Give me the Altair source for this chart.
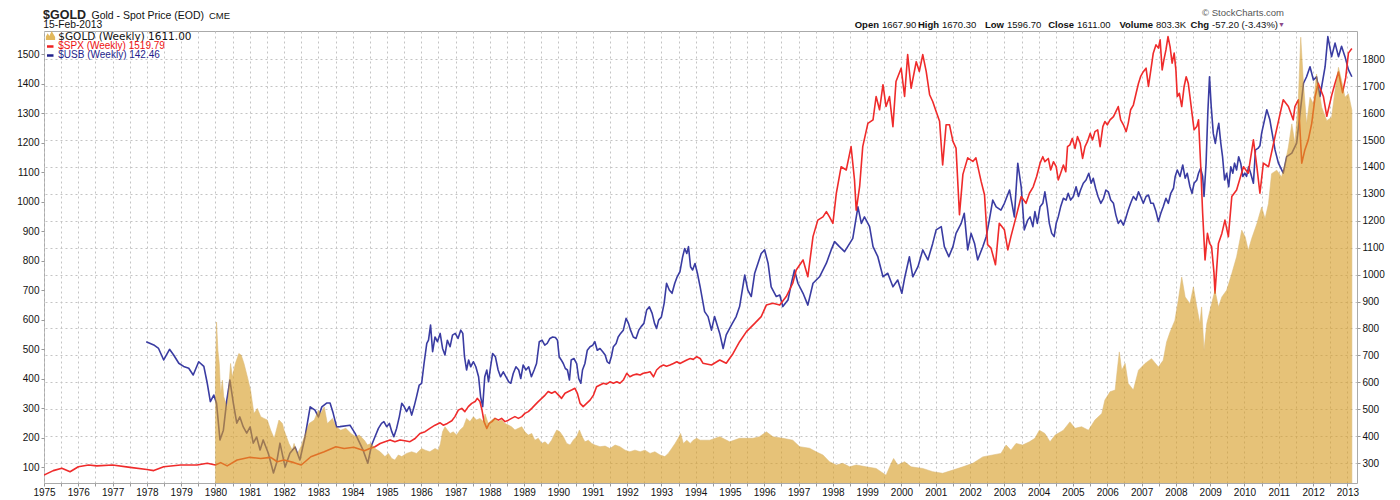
import altair as alt
import pandas as pd

# ---------------- data, (year, value) ----------------
# $SPX weekly, left axis
spx_points = [
    (1975.00, 74), (1975.27, 89), (1975.52, 97), (1975.76, 85), (1976.00, 102), (1976.30, 108),
    (1976.54, 105), (1977.00, 108), (1977.51, 100), (1978.00, 93), (1978.20, 89), (1978.49, 102),
    (1978.98, 108), (1979.46, 108), (1979.76, 114), (1980.00, 108), (1980.15, 116), (1980.34, 105),
    (1980.63, 125), (1981.00, 134), (1981.32, 130), (1981.61, 134), (1981.80, 119), (1982.00, 125),
    (1982.29, 116), (1982.50, 108), (1982.78, 136), (1983.17, 153), (1983.51, 170), (1983.75, 164),
    (1984.03, 168), (1984.34, 156),
    (1984.50, 164), (1984.65, 170), (1984.80, 181), (1984.94, 187), (1985.09, 193), (1985.23, 187),
    (1985.38, 193), (1985.52, 190), (1985.67, 187), (1985.82, 198), (1985.96, 215), (1986.11, 221),
    (1986.25, 232), (1986.40, 243), (1986.55, 251), (1986.64, 243), (1986.76, 249), (1986.89, 258),
    (1986.98, 272), (1987.08, 294), (1987.18, 300), (1987.27, 289), (1987.37, 306), (1987.47, 317),
    (1987.57, 323), (1987.63, 334), (1987.71, 323), (1987.77, 294), (1987.83, 255), (1987.91, 232),
    (1987.98, 249), (1988.06, 255), (1988.15, 266), (1988.25, 260), (1988.34, 266), (1988.44, 255),
    (1988.54, 260), (1988.63, 266), (1988.73, 272), (1988.83, 266), (1988.93, 272), (1989.02, 283),
    (1989.12, 289), (1989.22, 300), (1989.31, 311), (1989.41, 323), (1989.51, 334), (1989.61, 345),
    (1989.70, 357), (1989.80, 351), (1989.90, 357), (1990.00, 345), (1990.09, 334), (1990.19, 351),
    (1990.29, 357), (1990.38, 362), (1990.48, 368), (1990.55, 351), (1990.63, 317), (1990.72, 306),
    (1990.82, 317), (1990.92, 328), (1991.02, 345), (1991.11, 373), (1991.21, 379), (1991.31, 385),
    (1991.40, 382), (1991.50, 390), (1991.60, 385), (1991.70, 390), (1991.79, 385), (1991.89, 396),
    (1991.99, 419), (1992.08, 407), (1992.18, 413), (1992.28, 416), (1992.38, 413), (1992.47, 419),
    (1992.57, 421), (1992.67, 424), (1992.77, 407), (1992.86, 430), (1992.96, 441), (1993.06, 447),
    (1993.15, 443), (1993.25, 447), (1993.35, 452), (1993.45, 458), (1993.54, 452), (1993.64, 458),
    (1993.74, 464), (1993.84, 469), (1993.93, 466), (1994.03, 475), (1994.13, 469),
    (1994.21, 453), (1994.46, 447), (1994.70, 464), (1994.89, 453), (1995.09, 486), (1995.28, 526),
    (1995.48, 560), (1995.72, 588), (1995.91, 611), (1996.06, 650), (1996.25, 656), (1996.45, 650),
    (1996.64, 679), (1996.83, 724), (1996.93, 769), (1997.13, 803), (1997.27, 746), (1997.42, 882),
    (1997.56, 938), (1997.71, 949), (1997.81, 967), (1997.90, 949), (1998.00, 927), (1998.10, 1029),
    (1998.24, 1119), (1998.39, 1108), (1998.53, 1187), (1998.63, 1074), (1998.68, 972), (1998.78, 1052),
    (1998.87, 1187), (1999.02, 1266), (1999.17, 1278), (1999.26, 1357), (1999.36, 1312), (1999.46, 1397),
    (1999.55, 1323), (1999.65, 1357), (1999.75, 1255), (1999.84, 1408), (1999.99, 1453), (2000.09, 1357),
    (2000.18, 1499), (2000.28, 1385), (2000.43, 1475), (2000.52, 1442), (2000.62, 1499), (2000.72, 1442),
    (2000.82, 1363), (2000.91, 1340), (2001.01, 1306), (2001.11, 1273), (2001.20, 1125), (2001.30, 1261),
    (2001.40, 1261), (2001.50, 1205), (2001.59, 1182), (2001.69, 956), (2001.79, 1093), (2001.93, 1149),
    (2002.08, 1137), (2002.17, 1149), (2002.32, 1070), (2002.42, 1024), (2002.51, 855), (2002.61, 843),
    (2002.74, 787), (2002.85, 927), (2003.00, 905), (2003.10, 837), (2003.19, 882), (2003.34, 949),
    (2003.49, 1018), (2003.63, 995), (2003.73, 1029),
    (2003.84, 1051), (2003.94, 1086), (2004.04, 1131), (2004.12, 1153), (2004.18, 1136), (2004.28, 1147),
    (2004.35, 1108), (2004.43, 1136), (2004.51, 1119), (2004.57, 1074), (2004.64, 1097), (2004.72, 1125),
    (2004.79, 1102), (2004.84, 1187), (2004.91, 1193), (2004.98, 1215), (2005.06, 1181), (2005.13, 1221),
    (2005.21, 1198), (2005.28, 1147), (2005.35, 1187), (2005.42, 1204), (2005.50, 1232), (2005.57, 1210),
    (2005.64, 1238), (2005.72, 1244), (2005.79, 1187), (2005.87, 1255), (2005.93, 1272), (2006.00, 1261),
    (2006.08, 1278), (2006.18, 1289), (2006.25, 1306), (2006.32, 1323), (2006.39, 1278), (2006.47, 1261),
    (2006.55, 1238), (2006.61, 1266), (2006.68, 1312), (2006.76, 1328), (2006.84, 1368), (2006.91, 1402),
    (2006.97, 1424), (2007.05, 1441), (2007.13, 1453), (2007.20, 1391), (2007.27, 1447), (2007.34, 1504),
    (2007.42, 1532), (2007.49, 1521), (2007.54, 1549), (2007.60, 1447), (2007.65, 1481), (2007.71, 1515),
    (2007.77, 1560), (2007.83, 1526), (2007.89, 1470), (2007.95, 1504), (2008.00, 1447), (2008.04, 1357),
    (2008.10, 1368), (2008.17, 1323), (2008.24, 1391), (2008.30, 1424), (2008.36, 1402), (2008.41, 1357),
    (2008.47, 1300), (2008.53, 1244), (2008.61, 1255), (2008.66, 1278), (2008.72, 1131), (2008.78, 961),
    (2008.85, 803), (2008.92, 893), (2008.98, 860), (2009.04, 848), (2009.11, 760),
    (2009.14, 690), (2009.24, 859), (2009.34, 893), (2009.43, 938), (2009.53, 882), (2009.63, 1018),
    (2009.77, 1040), (2009.97, 1119), (2010.11, 1097), (2010.26, 1210), (2010.36, 1119), (2010.45, 1029),
    (2010.55, 1131), (2010.70, 1119), (2010.89, 1221), (2011.04, 1300), (2011.13, 1346), (2011.28, 1323),
    (2011.42, 1278), (2011.47, 1323), (2011.57, 1346), (2011.67, 1131), (2011.76, 1176), (2011.86, 1210),
    (2011.96, 1266), (2012.06, 1357), (2012.15, 1402), (2012.30, 1357), (2012.40, 1290), (2012.54, 1360),
    (2012.64, 1402), (2012.74, 1440), (2012.86, 1370), (2012.95, 1420), (2013.03, 1504), (2013.13, 1520),
]

# $USB weekly, drawn against the left axis
usb_points = [
    (1977.98, 526), (1978.20, 515), (1978.34, 503), (1978.49, 464), (1978.66, 500), (1978.78, 481),
    (1978.93, 453), (1979.07, 442), (1979.22, 436), (1979.35, 413), (1979.51, 458), (1979.66, 442),
    (1979.76, 385), (1979.85, 323), (1979.95, 345), (1980.03, 318), (1980.13, 193), (1980.23, 226),
    (1980.33, 328), (1980.42, 396), (1980.52, 318), (1980.62, 250), (1980.71, 271), (1980.81, 237),
    (1980.91, 216), (1981.01, 237), (1981.10, 182), (1981.20, 203), (1981.30, 159), (1981.39, 193),
    (1981.54, 148), (1981.69, 81), (1981.78, 115), (1981.88, 182), (1982.03, 101), (1982.17, 148),
    (1982.32, 169), (1982.46, 125), (1982.61, 203), (1982.76, 305), (1982.90, 294), (1983.00, 271),
    (1983.10, 305), (1983.24, 318), (1983.34, 318), (1983.43, 284), (1983.53, 237), (1983.63, 238),
    (1983.92, 243), (1984.07, 215), (1984.21, 181), (1984.30, 159), (1984.44, 114),
    (1984.55, 175), (1984.65, 204), (1984.75, 232), (1984.84, 249), (1984.91, 255), (1984.99, 238),
    (1985.07, 249), (1985.14, 221), (1985.20, 204), (1985.28, 232), (1985.36, 272), (1985.43, 317),
    (1985.50, 306), (1985.57, 289), (1985.65, 306), (1985.72, 277), (1985.79, 306), (1985.86, 339),
    (1985.94, 379), (1986.01, 385), (1986.08, 452), (1986.16, 520), (1986.21, 531), (1986.27, 582),
    (1986.33, 492), (1986.40, 542), (1986.47, 526), (1986.55, 554), (1986.62, 503), (1986.69, 481),
    (1986.76, 531), (1986.84, 509), (1986.91, 548), (1986.99, 554), (1987.07, 537), (1987.15, 565),
    (1987.21, 554), (1987.26, 475), (1987.32, 430), (1987.38, 464), (1987.44, 441), (1987.52, 458),
    (1987.59, 441), (1987.67, 407), (1987.73, 339), (1987.79, 306), (1987.85, 407), (1987.91, 430),
    (1987.96, 390), (1988.02, 441), (1988.08, 486), (1988.16, 475), (1988.24, 430), (1988.31, 407),
    (1988.39, 424), (1988.47, 407), (1988.55, 390), (1988.61, 385), (1988.68, 418), (1988.76, 441),
    (1988.84, 430), (1988.90, 401), (1988.97, 447), (1989.05, 430), (1989.13, 441), (1989.21, 407),
    (1989.29, 430), (1989.36, 452), (1989.44, 526), (1989.52, 531), (1989.60, 514), (1989.67, 520),
    (1989.75, 537), (1989.83, 542), (1989.91, 540), (1989.97, 531), (1990.02, 475), (1990.08, 464),
    (1990.14, 452), (1990.20, 435), (1990.26, 430), (1990.32, 396), (1990.37, 464), (1990.45, 469),
    (1990.53, 452), (1990.59, 401), (1990.65, 385), (1990.70, 430), (1990.77, 452), (1990.84, 497),
    (1990.92, 509), (1991.00, 514), (1991.06, 526), (1991.13, 497), (1991.21, 503), (1991.29, 492),
    (1991.36, 481), (1991.42, 458), (1991.48, 452), (1991.54, 475), (1991.60, 509), (1991.68, 520),
    (1991.74, 542), (1991.81, 554), (1991.89, 565), (1991.97, 605), (1992.04, 588), (1992.10, 565),
    (1992.18, 542), (1992.26, 537), (1992.34, 565), (1992.41, 577), (1992.49, 588), (1992.57, 633),
    (1992.65, 644), (1992.73, 622), (1992.80, 588), (1992.86, 571), (1992.92, 599), (1993.00, 610),
    (1993.08, 656), (1993.15, 724), (1993.23, 701), (1993.31, 690), (1993.39, 724), (1993.46, 746),
    (1993.54, 763), (1993.62, 814), (1993.68, 842), (1993.74, 825), (1993.79, 848), (1993.85, 780),
    (1993.91, 769), (1993.98, 791), (1994.05, 758), (1994.13, 712),
    (1994.26, 628), (1994.36, 611), (1994.46, 565), (1994.55, 611), (1994.70, 554), (1994.80, 503),
    (1994.89, 549), (1995.04, 582), (1995.18, 611), (1995.28, 645), (1995.43, 752), (1995.52, 701),
    (1995.62, 679), (1995.72, 758), (1995.91, 825), (1996.01, 837), (1996.11, 792), (1996.20, 712),
    (1996.35, 679), (1996.45, 684), (1996.54, 645), (1996.69, 667), (1996.79, 724), (1996.88, 769),
    (1996.98, 724), (1997.13, 690), (1997.27, 650), (1997.42, 724), (1997.61, 746), (1997.81, 792),
    (1997.95, 837), (1998.05, 865), (1998.19, 848), (1998.34, 831), (1998.49, 859), (1998.58, 876),
    (1998.73, 983), (1998.83, 927), (1998.92, 949), (1999.07, 916), (1999.17, 848), (1999.31, 814),
    (1999.46, 746), (1999.60, 758), (1999.75, 712), (1999.89, 735), (2000.01, 690), (2000.09, 741),
    (2000.23, 814), (2000.33, 746), (2000.48, 780), (2000.62, 837), (2000.77, 803), (2000.91, 859),
    (2001.01, 905), (2001.16, 916), (2001.25, 848), (2001.38, 814), (2001.50, 848), (2001.59, 893),
    (2001.74, 927), (2001.83, 961), (2001.93, 837), (2002.03, 893), (2002.13, 859), (2002.22, 803),
    (2002.37, 848), (2002.47, 882), (2002.56, 938), (2002.66, 1006), (2002.76, 983), (2002.90, 972),
    (2003.00, 995), (2003.15, 1040), (2003.29, 949), (2003.39, 1131), (2003.49, 1051), (2003.58, 905),
    (2003.68, 938),
    (2003.75, 949), (2003.83, 916), (2003.89, 967), (2003.96, 927), (2004.04, 983), (2004.12, 995),
    (2004.18, 1034), (2004.25, 983), (2004.31, 927), (2004.38, 893), (2004.45, 882), (2004.51, 927),
    (2004.57, 949), (2004.64, 983), (2004.72, 1012), (2004.80, 1006), (2004.86, 1029), (2004.93, 1006),
    (2005.01, 1018), (2005.09, 1051), (2005.16, 1018), (2005.22, 1040), (2005.30, 1063), (2005.38, 1074),
    (2005.46, 1097), (2005.53, 1063), (2005.59, 1080), (2005.66, 1046), (2005.73, 1018), (2005.81, 995),
    (2005.89, 1012), (2005.96, 1040), (2006.03, 1034), (2006.10, 1006), (2006.18, 995), (2006.25, 955),
    (2006.32, 927), (2006.39, 938), (2006.47, 921), (2006.55, 949), (2006.61, 972), (2006.68, 995),
    (2006.76, 1018), (2006.84, 1006), (2006.91, 1034), (2006.97, 1018), (2007.05, 995), (2007.13, 1018),
    (2007.20, 1023), (2007.27, 995), (2007.34, 995), (2007.42, 967), (2007.49, 933), (2007.56, 961),
    (2007.63, 983), (2007.71, 1012), (2007.78, 995), (2007.85, 1029), (2007.93, 1046), (2007.98, 1086),
    (2008.04, 1108), (2008.12, 1086), (2008.20, 1125), (2008.27, 1080), (2008.33, 1097), (2008.41, 1051),
    (2008.47, 1029), (2008.53, 1063), (2008.61, 1074), (2008.66, 1097), (2008.72, 1114), (2008.78, 1086),
    (2008.82, 1018), (2008.88, 1131), (2008.93, 1300), (2008.98, 1424), (2009.03, 1323), (2009.09, 1232),
    (2009.15, 1198), (2009.21, 1244), (2009.25, 1266), (2009.31, 1198), (2009.36, 1153), (2009.42, 1074),
    (2009.48, 1097), (2009.54, 1051), (2009.60, 1119), (2009.66, 1097), (2009.71, 1131), (2009.77, 1108),
    (2009.83, 1153), (2009.89, 1131), (2009.95, 1086), (2010.01, 1097), (2010.06, 1086), (2010.12, 1119),
    (2010.18, 1097), (2010.26, 1063), (2010.32, 1176), (2010.39, 1181), (2010.45, 1190),
    (2010.50, 1233), (2010.65, 1312), (2010.74, 1278), (2010.89, 1176), (2010.99, 1131), (2011.13, 1097),
    (2011.23, 1153), (2011.38, 1165), (2011.52, 1199), (2011.62, 1300), (2011.72, 1402), (2011.81, 1424),
    (2011.91, 1458), (2012.01, 1413), (2012.10, 1424), (2012.20, 1357), (2012.35, 1458), (2012.43, 1560),
    (2012.54, 1492), (2012.64, 1538), (2012.74, 1492), (2012.83, 1527), (2012.93, 1492), (2013.03, 1448),
    (2013.13, 1424),
]

# $GOLD weekly, right axis
gold_points = [
    (1980.00, 620), (1980.03, 824), (1980.07, 719), (1980.11, 670), (1980.15, 558), (1980.20, 608),
    (1980.24, 546), (1980.34, 509), (1980.44, 670), (1980.49, 620), (1980.58, 670), (1980.68, 707),
    (1980.75, 701), (1980.83, 670), (1980.93, 620), (1981.02, 571), (1981.12, 484), (1981.22, 503),
    (1981.32, 472), (1981.41, 466), (1981.51, 460), (1981.61, 422), (1981.71, 392), (1981.75, 410),
    (1981.85, 460), (1981.95, 447), (1982.00, 422), (1982.14, 373), (1982.24, 348), (1982.29, 373),
    (1982.39, 336), (1982.49, 361), (1982.59, 398), (1982.73, 447), (1982.88, 460), (1983.00, 497),
    (1983.07, 484), (1983.17, 509), (1983.26, 447), (1983.41, 466), (1983.51, 435), (1983.65, 422),
    (1983.80, 429), (1983.95, 410), (1984.09, 398), (1984.19, 404), (1984.34, 385), (1984.43, 367),
    (1984.53, 373),
    (1984.65, 354), (1984.80, 342), (1984.94, 324), (1985.04, 336), (1985.14, 317), (1985.23, 311),
    (1985.33, 330), (1985.43, 324), (1985.57, 336), (1985.72, 342), (1985.86, 336), (1986.01, 354),
    (1986.11, 348), (1986.25, 342), (1986.40, 354), (1986.50, 348), (1986.56, 373), (1986.62, 416),
    (1986.69, 435), (1986.76, 423), (1986.84, 410), (1986.93, 416), (1987.03, 404), (1987.13, 423),
    (1987.23, 435), (1987.32, 466), (1987.42, 454), (1987.52, 472), (1987.61, 460), (1987.71, 466),
    (1987.81, 454), (1987.86, 482), (1987.95, 447), (1988.05, 460), (1988.15, 466), (1988.25, 454),
    (1988.34, 460), (1988.44, 447), (1988.54, 441), (1988.63, 435), (1988.73, 423), (1988.83, 429),
    (1988.93, 435), (1989.02, 416), (1989.12, 404), (1989.22, 410), (1989.31, 385), (1989.41, 392),
    (1989.51, 373), (1989.61, 379), (1989.70, 367), (1989.80, 385), (1989.87, 404), (1989.95, 423),
    (1990.04, 416), (1990.14, 398), (1990.24, 373), (1990.34, 367), (1990.43, 385), (1990.53, 398),
    (1990.61, 423), (1990.69, 398), (1990.77, 379), (1990.87, 385), (1990.97, 373), (1991.06, 367),
    (1991.21, 361), (1991.36, 363), (1991.50, 354), (1991.65, 367), (1991.79, 361), (1991.94, 348),
    (1992.08, 342), (1992.23, 348), (1992.38, 342), (1992.52, 348), (1992.67, 336), (1992.81, 342),
    (1992.96, 330), (1993.10, 324), (1993.20, 336), (1993.30, 354), (1993.40, 373), (1993.49, 392),
    (1993.56, 410), (1993.64, 373), (1993.74, 385), (1993.84, 373), (1993.93, 385), (1994.03, 392),
    (1994.13, 385),
    (1994.41, 385), (1994.70, 398), (1994.99, 379), (1995.28, 392), (1995.67, 392), (1995.86, 398),
    (1996.06, 416), (1996.25, 398), (1996.54, 392), (1996.83, 385), (1997.03, 361), (1997.32, 355),
    (1997.51, 342), (1997.71, 330), (1997.90, 305), (1998.10, 293), (1998.29, 299), (1998.49, 286),
    (1998.68, 293), (1998.97, 286), (1999.26, 280), (1999.55, 255), (1999.70, 299), (1999.77, 317),
    (1999.89, 293), (2000.09, 305), (2000.28, 286), (2000.62, 280), (2000.91, 268), (2001.20, 262),
    (2001.50, 274), (2001.79, 286), (2002.08, 299), (2002.37, 323), (2002.66, 330), (2002.90, 336),
    (2003.05, 367), (2003.19, 348), (2003.34, 373), (2003.53, 367), (2003.73, 379), (2003.89, 392),
    (2004.02, 422), (2004.18, 410), (2004.33, 379), (2004.48, 404), (2004.72, 422), (2004.91, 453),
    (2005.06, 429), (2005.25, 435), (2005.45, 422), (2005.64, 460), (2005.84, 484), (2005.93, 534),
    (2006.08, 565), (2006.23, 571), (2006.29, 645), (2006.35, 713), (2006.42, 645), (2006.52, 670),
    (2006.61, 596), (2006.76, 571), (2006.91, 645), (2007.10, 670), (2007.29, 688), (2007.49, 657),
    (2007.63, 682), (2007.73, 750), (2007.83, 787), (2007.97, 830), (2008.07, 905), (2008.17, 991),
    (2008.27, 917), (2008.41, 892), (2008.51, 954), (2008.61, 880), (2008.70, 818), (2008.75, 880),
    (2008.82, 719), (2008.90, 818), (2009.04, 892), (2009.14, 942), (2009.24, 880), (2009.34, 917),
    (2009.48, 942), (2009.63, 1004), (2009.77, 1066), (2009.92, 1165), (2010.02, 1140), (2010.11, 1090),
    (2010.21, 1134), (2010.36, 1189), (2010.50, 1251), (2010.60, 1208), (2010.70, 1264), (2010.79, 1375),
    (2010.94, 1388), (2011.08, 1363), (2011.18, 1412), (2011.28, 1474), (2011.38, 1560), (2011.47, 1486),
    (2011.57, 1650), (2011.64, 1882), (2011.72, 1708), (2011.81, 1560), (2011.91, 1659), (2012.01, 1634),
    (2012.10, 1745), (2012.25, 1622), (2012.40, 1572), (2012.54, 1585), (2012.64, 1684), (2012.74, 1770),
    (2012.83, 1721), (2012.93, 1659), (2013.03, 1672), (2013.13, 1611),
]

year_ticks = [1975 + 0.5 * i for i in range(77)]
spx_ticks = list(range(100, 1501, 100))
gold_ticks = list(range(300, 1801, 100))

# ---------------- chart ----------------
W, H = 1313, 452
FONT = "Liberation Sans"

lines_df = pd.concat([
    pd.DataFrame(usb_points, columns=["year", "value"]).assign(series="$USB"),
    pd.DataFrame(spx_points, columns=["year", "value"]).assign(series="$SPX"),
], ignore_index=True)
gold_df = pd.DataFrame(gold_points, columns=["year", "value"])

x_axis = alt.Axis(values=year_ticks, title=None, grid=True, gridColor="#c4c4c4", gridDash=[2, 3],
                  gridWidth=1, domain=False, tickColor="#999999", tickSize=3, labelPadding=1,
                  labelExpr="datum.value % 1 == 0 ? format(datum.value, 'd') : ''",
                  labelFont=FONT, labelFontSize=10, labelColor="#111111", labelOverlap=False,
                  labelFlush=False)
x_enc = alt.X("year:Q", scale=alt.Scale(domain=[1975, 2013.28], nice=False, zero=False), axis=x_axis)

lines = alt.Chart(lines_df).mark_line(strokeWidth=1.6, clip=True, strokeJoin="round").encode(
    x=x_enc,
    y=alt.Y("value:Q", scale=alt.Scale(domain=[47, 1579], nice=False, zero=False),
            axis=alt.Axis(orient="left", values=spx_ticks, format="d", title=None, grid=False,
                          domain=False, tickColor="#999999", tickSize=3, labelPadding=2,
                          labelFont=FONT, labelFontSize=10, labelColor="#111111")),
    color=alt.Color("series:N", scale=alt.Scale(domain=["$USB", "$SPX"], range=["#3A3CA2", "#EF2B2B"]),
                    legend=None),
)

gold = alt.Chart(gold_df).mark_area(color="#D89E26", opacity=0.62, clip=True,
                                    stroke="#C8912A", strokeWidth=0.8, strokeOpacity=0.7).encode(
    x=x_enc,
    y=alt.Y("value:Q", scale=alt.Scale(domain=[226, 1905], nice=False, zero=False),
            axis=alt.Axis(orient="right", values=gold_ticks, format="d", title=None, grid=True,
                          gridColor="#c4c4c4", gridDash=[2, 3], domain=False, tickColor="#999999",
                          tickSize=3, labelPadding=2, labelFont=FONT, labelFontSize=10,
                          labelColor="#111111")),
)

one = alt.Data(values=[{"k": 1}])


def label(text, x, y, size=10, weight="normal", color="#111111", align="left", font=FONT):
    return alt.Chart(one).mark_text(text=text, align=align, baseline="alphabetic", fontSize=size,
                                    fontWeight=weight, color=color, font=font).encode(
        x=alt.value(x), y=alt.value(y))


HY = -12.3   # baseline of the first header line (plot coordinates)
SY = -3.0    # baseline of the second header line
notes = [
    label("$GOLD", -1, HY, size=12.5, weight="bold", color="#222222"),
    label("Gold - Spot Price (EOD)", 47.5, HY, size=10.5),
    label("CME", 165, HY, size=9.5),
    label("15-Feb-2013", -0.7, SY, size=10.3),
    label("\u00a9 StockCharts.com", 1240, -15, size=9.5, color="#555555", align="right"),
    label("Open", 835, SY, size=9.5, weight="bold", align="right"),
    label("1667.90", 838, SY, size=9.5),
    label("High", 895, SY, size=9.5, weight="bold", align="right"),
    label("1670.30", 898, SY, size=9.5),
    label("Low", 960, SY, size=9.5, weight="bold", align="right"),
    label("1596.70", 963, SY, size=9.5),
    label("Close", 1030, SY, size=9.5, weight="bold", align="right"),
    label("1611.00", 1033, SY, size=9.5),
    label("Volume", 1109, SY, size=9.5, weight="bold", align="right"),
    label("803.3K", 1112, SY, size=9.5),
    label("Chg", 1165, SY, size=9.5, weight="bold", align="right"),
    label("-57.20 (-3.43%)", 1168, SY, size=9.5),
    label("\u25bc", 1234, SY - 0.7, size=7, color="#8a4a8a"),
    # legend inside plot
    label("$GOLD (Weekly) 1611.00", 14.3, 8.5, size=10.5, color="#111111", font="DejaVu Sans"),
    label("$SPX (Weekly) 1519.79", 14.3, 17.5, size=10, color="#EE1111"),
    label("$USB (Weekly) 142.46", 14.3, 27, size=10, color="#1E1E8C"),
    alt.Chart(one).mark_point(shape="M-1,1L-1,0.2L-0.6,-0.5L-0.25,0.1L0.25,-1L1,0.3L1,1Z", filled=True,
                              fill="#E2B85C", size=85, opacity=1).encode(x=alt.value(6.5), y=alt.value(4.5)),
    alt.Chart(one).mark_rule(color="#EE2222", strokeWidth=2.5).encode(
        x=alt.value(3), x2=alt.value(9.5), y=alt.value(15.5)),
    alt.Chart(one).mark_rule(color="#22228C", strokeWidth=2.5).encode(
        x=alt.value(3), x2=alt.value(9.5), y=alt.value(24.5)),
]

chart = alt.layer(lines, gold, *notes).resolve_scale(y="independent", color="independent").properties(
    width=W, height=H,
    padding={"left": 36, "top": 23, "right": 35, "bottom": 17},
    autosize=alt.AutoSizeParams(type="none"),
    background="white",
).configure_view(stroke="#aaaaaa", strokeWidth=1)

chart.save("out.html", embed_options={"renderer": "svg", "actions": False})
